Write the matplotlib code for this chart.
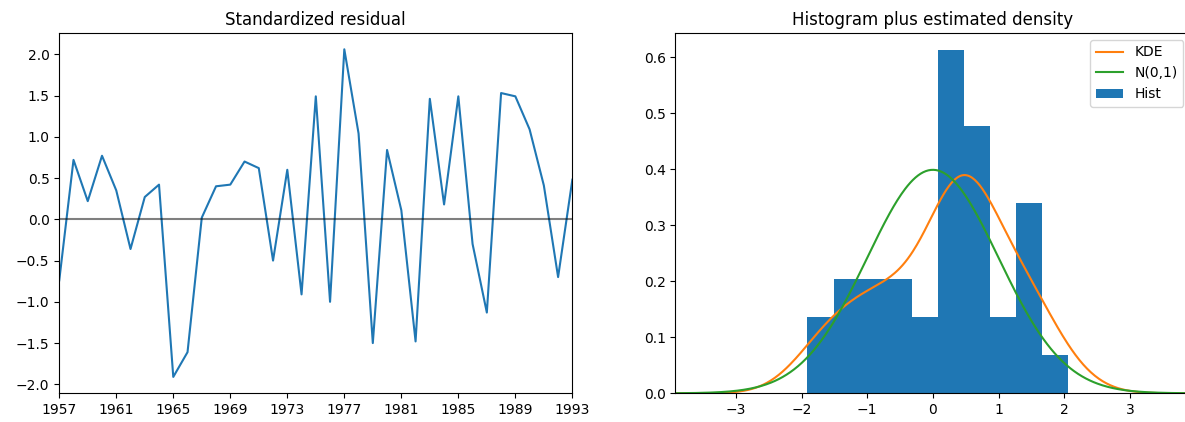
import numpy as np
import matplotlib
matplotlib.use('Agg')
import matplotlib.pyplot as plt

# standardized residuals, one per year 1957..1993
years = list(range(1957, 1994))
resid = [-0.74, 0.72, 0.22, 0.77, 0.35, -0.36, 0.27, 0.42, -1.91, -1.61,
         0.02, 0.40, 0.42, 0.70, 0.62, -0.50, 0.60, -0.91, 1.49, -1.00,
         2.06, 1.04, -1.50, 0.84, 0.11, -1.48, 1.46, 0.18, 1.49, -0.30,
         -1.13, 1.53, 1.49, 1.09, 0.41, -0.70, 0.48]
year_ticks = list(range(1957, 1994, 4))


def gaussian_kde(data, x):
    data = np.asarray(data)
    n = len(data)
    bw = data.std(ddof=1) * n ** (-1.0 / 5)
    z = (x[:, None] - data[None, :]) / bw
    return np.exp(-0.5 * z ** 2).sum(axis=1) / (n * bw * np.sqrt(2 * np.pi))


fig = plt.figure(figsize=(11.85, 4.22), dpi=100)
ax1 = fig.add_axes([0.05, 0.068, 0.433, 0.854])
ax2 = fig.add_axes([0.570, 0.068, 0.4345, 0.854])

# left: residual over time
ax1.plot(years, resid)
xlim = (years[0], years[-1])
ax1.hlines(0, xlim[0], xlim[1], colors='k', alpha=0.5)
ax1.set_xlim(xlim)
ax1.set_xticks(year_ticks)
ax1.set_title('Standardized residual')

# right: histogram + densities
ax2.hist(resid, density=True, label='Hist')
lim = (-1.96 * 2, 1.96 * 2)
x = np.linspace(lim[0], lim[1], 400)
ax2.plot(x, gaussian_kde(resid, x), label='KDE')
ax2.plot(x, np.exp(-0.5 * x ** 2) / np.sqrt(2 * np.pi), label='N(0,1)')
ax2.set_xlim(lim)
handles, labels = ax2.get_legend_handles_labels()
order = [labels.index(l) for l in ['KDE', 'N(0,1)', 'Hist']]
ax2.legend([handles[i] for i in order], [labels[i] for i in order])
ax2.set_title('Histogram plus estimated density')

fig.savefig('out.png', dpi=100)
